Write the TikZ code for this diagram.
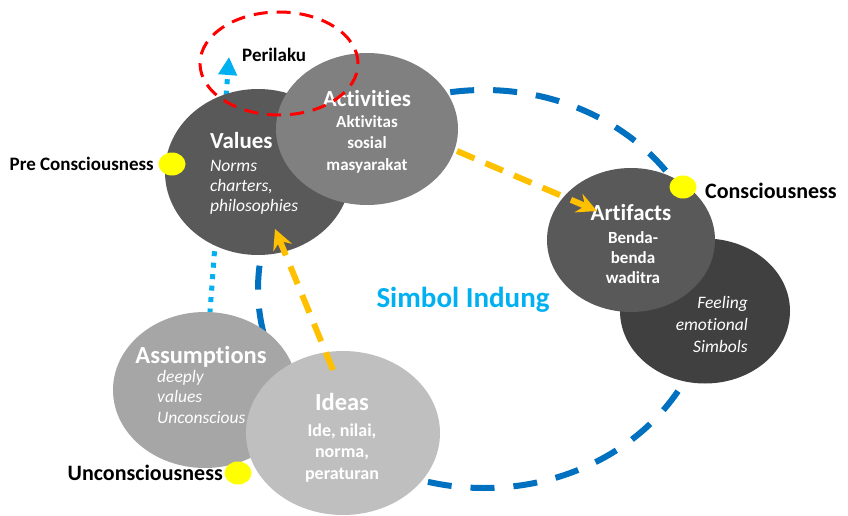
\documentclass[tikz,border=0pt]{standalone}
\usepackage{fontspec}
\setmainfont{Carlito}[Ligatures=NoCommon]
\usetikzlibrary{shapes.geometric,arrows.meta}
\definecolor{cValues}{HTML}{595959}
\definecolor{cAct}{HTML}{808080}
\definecolor{cArt}{HTML}{595959}
\definecolor{cFeel}{HTML}{404040}
\definecolor{cAss}{HTML}{A6A6A6}
\definecolor{cIdeas}{HTML}{BFBFBF}
\definecolor{cBlue}{HTML}{0070C0}
\definecolor{cLBlue}{HTML}{00B0F0}
\definecolor{cOrange}{HTML}{FFC000}
\definecolor{cYellow}{HTML}{FFFF00}
\definecolor{cRed}{HTML}{FF0000}
\begin{document}
\begin{tikzpicture}[x=1pt,y=-1pt,
  blob/.style={ellipse,draw=none,inner sep=0pt,outer sep=0pt},
  ttl/.style={text=white,font=\bfseries\fontsize{23}{27}\selectfont,anchor=base,inner sep=0pt},
  bodyb/.style={text=white,font=\bfseries\fontsize{17}{21}\selectfont,anchor=base,inner sep=0pt,align=center},
  bodyi/.style={text=white,font=\itshape\fontsize{17.5}{20.5}\selectfont,anchor=base,inner sep=0pt},
  lbl/.style={text=black,font=\bfseries\fontsize{22}{26}\selectfont,anchor=base,inner sep=0pt},
  ydot/.style={ellipse,fill=cYellow,draw=none,minimum width=27pt,minimum height=23pt,inner sep=0pt},
  orarrow/.style={draw=cOrange,line width=6pt,dash pattern=on 19pt off 12pt,
     -{Stealth[length=20pt,width=20pt,inset=7pt,fill=cOrange]}},
]
\useasboundingbox (0,0) rectangle (848,516);

% big blue dashed loop
\node[blob,draw=cBlue,line width=6pt,dash pattern=on 24pt off 19pt,
      minimum width=452pt,minimum height=398pt] (loop) at (484,289) {};

% light blue dotted arrow to Perilaku
\coordinate (ds) at (209,325);
\coordinate (de) at (229,57);
\draw[cLBlue,line width=5pt,dash pattern=on 5pt off 6.5pt,
      -{Triangle[length=18pt,width=18pt,fill=cLBlue]}] (ds) -- (de);

% Values
\node[blob,fill=cValues,minimum width=186pt,minimum height=166pt] (values) at (258,172) {};
\node[ttl,anchor=base west] (valT) at (210,148) {Values};
\node[bodyi,anchor=base west] (valB1) at (210,171) {Norms};
\node[bodyi,anchor=base west] (valB2) at (210,191) {charters,};
\node[bodyi,anchor=base west] (valB3) at (210,211) {philosophies};

% Activities
\node[blob,fill=cAct,minimum width=182pt,minimum height=152pt] (act) at (367,129) {};
\node[ttl] (actT) at (367,107) {Activities};
\node[bodyb] (actB1) at (367,128) {Aktivitas};
\node[bodyb] (actB2) at (367,149) {sosial};
\node[bodyb] (actB3) at (367,170) {masyarakat};

% Perilaku
\node[blob,draw=cRed,line width=3pt,dash pattern=on 14pt off 9pt,
      minimum width=158pt,minimum height=103pt] (peril) at (279,63.5) {};
\node[lbl,font=\bfseries\fontsize{19}{23}\selectfont,anchor=base west] (perT) at (242,62) {Perilaku};

% Feeling and Artifacts
\node[blob,fill=cFeel,minimum width=170pt,minimum height=145pt] (feel) at (705,311) {};
\node[bodyi,anchor=base east] (feB1) at (748,308) {Feeling};
\node[bodyi,anchor=base east] (feB2) at (748,330) {emotional};
\node[bodyi,anchor=base east] (feB3) at (748,352) {Simbols};
\node[blob,fill=cArt,minimum width=168pt,minimum height=144pt] (art) at (631,240) {};
\node[ttl] (artT) at (631,220) {Artifacts};
\node[bodyb] (artB1) at (633,243) {Benda-};
\node[bodyb] (artB2) at (633,263) {benda};
\node[bodyb] (artB3) at (633,283) {waditra};

% Assumptions and Ideas
\node[blob,fill=cAss,minimum width=184pt,minimum height=156pt] (ass) at (205,390) {};
\node[ttl,font=\bfseries\fontsize{24.5}{28}\selectfont] (assT) at (201,363) {Assumptions};
\node[bodyi,anchor=base west] (asB1) at (157,382) {deeply};
\node[bodyi,anchor=base west] (asB2) at (157,402) {values};
\node[bodyi,anchor=base west] (asB3) at (157,423) {Unconscious};
\node[blob,fill=cIdeas,minimum width=194pt,minimum height=164pt] (ideas) at (343,433) {};
\node[ttl,font=\bfseries\fontsize{24.5}{28}\selectfont] (idT) at (342,410) {Ideas};
\node[bodyb,font=\bfseries\fontsize{18}{21}\selectfont] (idB1) at (342,436) {Ide, nilai,};
\node[bodyb,font=\bfseries\fontsize{18}{21}\selectfont] (idB2) at (342,457) {norma,};
\node[bodyb,font=\bfseries\fontsize{18}{21}\selectfont] (idB3) at (342,479) {peraturan};

% orange arrows
\coordinate (o1s) at (457,151);
\coordinate (o1e) at (597,211);
\draw[orarrow] (o1s) -- (o1e);
\coordinate (o2s) at (333,370);
\coordinate (o2e) at (275,229);
\draw[orarrow] (o2s) -- (o2e);

% central label
\node[text=cLBlue,font=\bfseries\fontsize{29}{33}\selectfont,anchor=base,inner sep=0pt] (simb) at (463,307) {Simbol Indung};

% yellow dots and consciousness labels
\node[ydot] (dPre) at (172,164) {};
\node[lbl,font=\bfseries\fontsize{19}{23}\selectfont,anchor=base east] (lPre) at (154,170) {Pre Consciousness};
\node[ydot] (dCon) at (683,187) {};
\node[lbl,anchor=base west] (lCon) at (705,198) {Consciousness};
\node[ydot] (dUnc) at (238,473) {};
\node[lbl,anchor=base east] (lUnc) at (223,480) {Unconsciousness};
\end{tikzpicture}
\end{document}
